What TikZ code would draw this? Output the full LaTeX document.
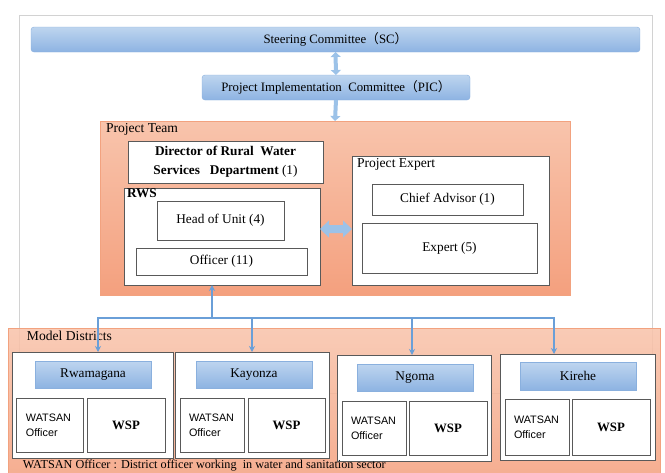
\documentclass[tikz,border=0pt]{standalone}
\usepackage{fontspec}
\setmainfont{Liberation Serif}
\newfontfamily\cjk{Noto Sans CJK SC}
\newfontfamily\arialfont{Liberation Sans}
\usetikzlibrary{arrows.meta}
\definecolor{barTop}{HTML}{BED5EF}
\definecolor{barBot}{HTML}{8DB3E2}
\definecolor{barLine}{HTML}{8AB0DE}
\definecolor{teamTop}{HTML}{F8C4AC}
\definecolor{teamBot}{HTML}{F4A07E}
\definecolor{teamLine}{HTML}{F2A27F}
\definecolor{linkBlue}{HTML}{6A9FD8}
\definecolor{fatBlue}{HTML}{9CC2E8}

\begin{document}
\begin{tikzpicture}[x=1pt, y=-1pt,
  every node/.style={inner sep=0pt, outer sep=0pt},
  bar/.style={draw=barLine, top color=barTop, bottom color=barBot, font=\fontsize{12.8}{14}\selectfont},
  group/.style={draw=teamLine, top color=teamTop, bottom color=teamBot},
  wbox/.style={draw=black!65, fill=white, line width=0.7pt, font=\fontsize{13.3}{15}\selectfont},
  tag/.style={anchor=north west, font=\fontsize{13.6}{15}\selectfont},
  watsan/.style={wbox, align=left, font=\arialfont\fontsize{10.8}{15}\selectfont},
  wsp/.style={wbox, font=\bfseries\fontsize{12.8}{15}\selectfont},
  link/.style={draw=linkBlue, line width=1.1pt, arrows={-Stealth[width=6pt, length=6pt]}},
  fat/.style={draw=fatBlue, line width=4pt}]
\useasboundingbox (0,0) rectangle (665,472);
\clip (0,0) rectangle (665,472);

\draw [gray!35, line width=1pt] (19,15) rectangle (652,393);

\node (sc) [bar, rounded corners=3pt, minimum width=609, minimum height=25] at (335.5,39.5) {Steering Committee{\cjk （}SC{\cjk ）}};
\node (pic) [bar, rounded corners=3pt, minimum width=268, minimum height=25] at (336,87.5) {Project Implementation\ \ Committee{\cjk （}PIC{\cjk ）}};

\node (team) [group, minimum width=470, minimum height=174] at (335,208) {};
\node (teamlbl) [tag] at (106,123) {Project Team};

\draw [fat, arrows={Triangle[width=10pt, length=5pt]-Triangle[width=10pt, length=5pt]}] (sc.south) -- (pic.north);
\draw [fat, arrows={-Triangle[width=10pt, length=5pt]}] (pic.south) -- (team.north);

\node (dir) [wbox, align=center, font=\bfseries\fontsize{13.3}{19}\selectfont, minimum width=195, minimum height=42] at (225.5,162) {Director\ of Rural\ \ Water\\Services\ \ \ Department \textmd{(1)}};

\node (rws) [wbox, minimum width=196, minimum height=97] at (222,236.5) {};
\node (rwslbl) [tag, font=\bfseries\fontsize{13.3}{15}\selectfont] at (127,189) {RWS};
\node (head) [wbox, minimum width=127, minimum height=39] at (220.5,220.5) {Head of Unit (4)};
\node (officer) [wbox, minimum width=171, minimum height=27] at (221.5,261.5) {Officer (11)};

\node (pe) [wbox, minimum width=197, minimum height=129] at (450.5,220.5) {};
\node (pelbl) [tag] at (357,158) {Project Expert};
\node (chief) [wbox, minimum width=151, minimum height=31] at (447.5,199.5) {Chief Advisor (1)};
\node (expert) [wbox, minimum width=175, minimum height=50] at (449.5,248) {Expert (5)};

\fill [fatBlue] ([yshift=7.5pt]rws.east) -- ++(9,-8.5) -- ++(0,4.5) -- ++(14,0) -- ++(0,-4.5) -- ++(9,8.5)
  -- ++(-9,8.5) -- ++(0,-4.5) -- ++(-14,0) -- ++(0,4.5) -- cycle;

\node (md) [group, fill opacity=0.88, minimum width=652, minimum height=160] at (334,408) {};
\node (mdlbl) [tag] at (27,331) {Model Districts};

\node (rw) [wbox, minimum width=161, minimum height=106] at (92.5,405) {};
\node (rwname) [bar, minimum width=116, minimum height=27, font=\fontsize{13.3}{15}\selectfont] at (93,374.5) {Rwamagana};
\node (rwwat) [watsan, text width=47, minimum width=67, minimum height=54] at (49.5,425) {WATSAN\\Officer};
\node (rwwsp) [wsp, minimum width=78, minimum height=54] at (126,425) {WSP};

\node (ka) [wbox, minimum width=154, minimum height=106] at (252,405) {};
\node (kaname) [bar, minimum width=116, minimum height=27, font=\fontsize{13.3}{15}\selectfont] at (254,374.5) {Kayonza};
\node (kawat) [watsan, text width=46, minimum width=64, minimum height=54] at (212,425) {WATSAN\\Officer};
\node (kawsp) [wsp, minimum width=77, minimum height=54] at (286.5,425) {WSP};

\node (ng) [wbox, minimum width=154, minimum height=106] at (414,408) {};
\node (ngname) [bar, minimum width=116, minimum height=27, font=\fontsize{13.3}{15}\selectfont] at (415,377.5) {Ngoma};
\node (ngwat) [watsan, text width=46, minimum width=64, minimum height=54] at (374,428) {WATSAN\\Officer};
\node (ngwsp) [wsp, minimum width=78, minimum height=54] at (448,428) {WSP};

\node (ki) [wbox, minimum width=155, minimum height=106] at (577.5,407) {};
\node (kiname) [bar, minimum width=116, minimum height=28, font=\fontsize{13.3}{15}\selectfont] at (578,376) {Kirehe};
\node (kiwat) [watsan, text width=46, minimum width=64, minimum height=56] at (537,427) {WATSAN\\Officer};
\node (kiwsp) [wsp, minimum width=78, minimum height=56] at (611,427) {WSP};

\node (note) [anchor=base west, font=\fontsize{12.2}{15}\selectfont] at (23,468) {WATSAN Officer : District officer working\ \ in water and sanitation sector};

\coordinate (fork) at (212,318);
\draw [link] (fork) -- (fork |- rws.south);
\draw [link] (fork) -| ([xshift=5.5pt]rw.north);
\draw [link] (fork) -| (ka.north);
\draw [link] (fork) -| ([xshift=-2pt]ng.north);
\draw [link] (fork) -| ([xshift=-23.5pt]ki.north);
\end{tikzpicture}
\end{document}
